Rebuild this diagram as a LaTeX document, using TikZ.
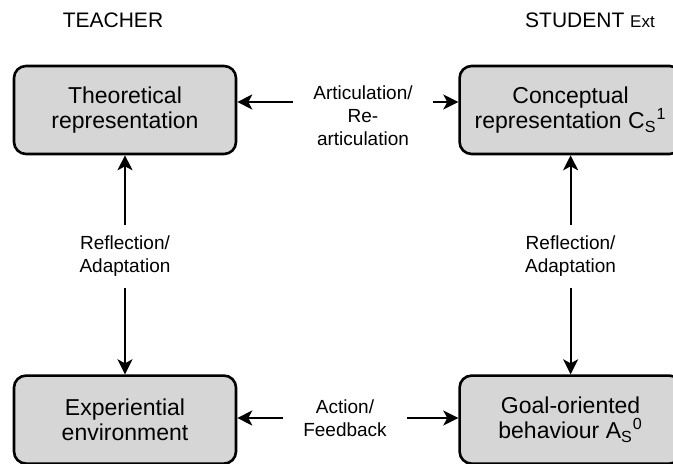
\documentclass[tikz,border=0pt]{standalone}
\usepackage{fontspec}
\setmainfont{Liberation Sans}
\usepackage{xcolor}
\usepackage{tikz}
\usetikzlibrary{positioning, arrows.meta}

\begin{document}
\begin{tikzpicture}[
  x=0.5pt, y=-0.5pt,
  node distance=109.5pt and 110.5pt,
  box/.style={draw, line width=1.3pt, rounded corners=6pt, fill=black!16,
    minimum width=111pt, minimum height=44pt, align=center,
    font=\fontsize{11.5}{12.5}\selectfont, inner sep=2pt},
  lbl/.style={align=center, font=\fontsize{9.5}{11.5}\selectfont,
    inner xsep=10pt, inner ysep=5.5pt},
  hdr/.style={font=\fontsize{10.5}{12}\selectfont, inner sep=0pt},
  arr/.style={-{Stealth[length=7.5pt, width=7.5pt, inset=2pt]}, line width=1pt}
]
\useasboundingbox (0,0) rectangle (673,464);

\node[hdr, anchor=base] (teacher) at (113,28) {TEACHER};
\node[hdr, anchor=base] (student) at (590,28)
  {STUDENT {\fontsize{8.5}{9}\selectfont Ext}};

\node[box] (theo) at (125,110) {Theoretical\\representation};
\node[box, right=of theo] (concept)
  {Conceptual\\representation C\textsubscript{S}\textsuperscript{1}};
\node[box, below=of theo] (exp) {Experiential\\environment};
\node[box, below=of concept] (goal)
  {Goal-oriented\\behaviour A\textsubscript{S}\textsuperscript{0}};

\node[lbl] (art) at (363,116) {Articulation/\\Re-\\articulation};
\node[lbl] (act) at (345,418) {Action/\\Feedback};
\node[lbl] (refl) at (theo |- 0,256.5) {Reflection/\\Adaptation};
\node[lbl] (reflst) at (concept |- 0,256.5) {Reflection/\\Adaptation};

\coordinate (top) at ([yshift=4pt]theo.east);
\draw[arr] (top -| art.west) -- (top);
\draw[arr] (top -| art.east) -- (top -| concept.west);
\draw[arr] (act.west) -- (act.west -| exp.east);
\draw[arr] (act.east) -- (act.east -| goal.west);
\draw[arr] (refl.north) -- (theo.south);
\draw[arr] (refl.south) -- (exp.north);
\draw[arr] (reflst.north) -- (concept.south);
\draw[arr] (reflst.south) -- (goal.north);
\end{tikzpicture}
\end{document}
